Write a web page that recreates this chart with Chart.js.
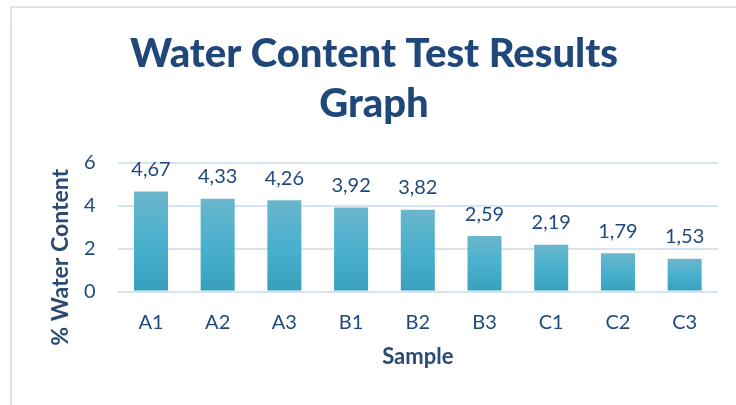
<!DOCTYPE html>
<html>
<head>
<meta charset="utf-8">
<script src="https://cdn.jsdelivr.net/npm/chart.js@4.4.1/dist/chart.umd.min.js"></script>
<style>
    html, body { margin: 0; padding: 0; background: #ffffff; }
    #wrap { position: relative; width: 736px; height: 405px; overflow: hidden; }
    #frame {
        position: absolute; left: 10px; top: 6px; right: -4px; bottom: -4px;
        border-left: 2px solid #d6e4f5; border-top: 2px solid #d6e4f5;
    }
    #water-chart { position: absolute; left: 0; top: 0; }
</style>
</head>
<body>
<div id="wrap">
    <div id="frame"></div>
    <canvas id="water-chart" width="736" height="405"></canvas>
</div>
<script>
// Chart data
const samples = ['A1', 'A2', 'A3', 'B1', 'B2', 'B3', 'C1', 'C2', 'C3'];
const waterContent = [4.67, 4.33, 4.26, 3.92, 3.82, 2.59, 2.19, 1.79, 1.53];
const yTicks = [0, 2, 4, 6];

const chartTitle = ['Water Content Test Results', 'Graph'];
const xTitle = 'Sample';
const yTitle = '% Water Content';

const textBlue = '#1f497d';
const axisTitleBlue = '#2a4a72';
const fontFamily = "Lato, 'Open Sans', sans-serif";

// Excel-like number labels with a decimal comma
function formatValue(v) {
    return v.toFixed(2).replace('.', ',');
}

// Per-bar vertical gradient (light top, darker bottom)
function barGradient(context) {
    const chart = context.chart;
    const yScale = chart.scales.y;
    if (!yScale || context.raw === undefined) return '#4aafcc';
    const top = yScale.getPixelForValue(context.raw);
    const bottom = yScale.getPixelForValue(0);
    if (!isFinite(top) || !isFinite(bottom) || top === bottom) return '#4aafcc';
    const g = chart.ctx.createLinearGradient(0, top, 0, bottom);
    g.addColorStop(0, '#6bb6cc');
    g.addColorStop(0.5, '#49b0ce');
    g.addColorStop(1, '#389fbb');
    return g;
}

// Value labels above the bars
const valueLabels = {
    id: 'valueLabels',
    afterDatasetsDraw(chart) {
        const ctx = chart.ctx;
        const meta = chart.getDatasetMeta(0);
        ctx.save();
        ctx.font = '20px ' + fontFamily;
        ctx.fillStyle = textBlue;
        ctx.textAlign = 'center';
        ctx.textBaseline = 'middle';
        meta.data.forEach((bar, i) => {
            ctx.fillText(formatValue(waterContent[i]), bar.x, bar.y - 22);
        });
        ctx.restore();
    }
};

// Y axis title, centred a bit lower like the original
const yAxisTitle = {
    id: 'yAxisTitle',
    afterDraw(chart) {
        const area = chart.chartArea;
        const ctx = chart.ctx;
        ctx.save();
        ctx.translate(area.left - 57, (area.top + area.bottom) / 2 + 30);
        ctx.rotate(-Math.PI / 2);
        ctx.font = 'bold 23px ' + fontFamily;
        ctx.fillStyle = axisTitleBlue;
        ctx.textAlign = 'center';
        ctx.textBaseline = 'middle';
        ctx.fillText(yTitle, 0, 0);
        ctx.restore();
    }
};

const ctx = document.getElementById('water-chart');

new Chart(ctx, {
    type: 'bar',
    data: {
        labels: samples,
        datasets: [{
            label: yTitle,
            data: waterContent,
            backgroundColor: barGradient,
            borderWidth: 0,
            barPercentage: 0.51,
            categoryPercentage: 1
        }]
    },
    options: {
        responsive: false,
        animation: false,
        layout: {
            padding: { left: 30, right: 18, top: 0, bottom: 35 }
        },
        plugins: {
            legend: { display: false },
            tooltip: { enabled: false },
            title: {
                display: true,
                text: chartTitle,
                color: '#1f477a',
                font: { family: fontFamily, size: 40, weight: 900, lineHeight: 1.25 },
                padding: { top: 29, bottom: 34 }
            }
        },
        scales: {
            x: {
                grid: { display: false, drawTicks: false },
                border: { display: false },
                ticks: {
                    color: textBlue,
                    padding: 19,
                    font: { family: fontFamily, size: 20 }
                },
                title: {
                    display: true,
                    text: xTitle,
                    color: axisTitleBlue,
                    padding: { top: -10, bottom: 0 },
                    font: { family: fontFamily, size: 22, weight: 'bold' }
                }
            },
            y: {
                min: 0,
                max: 6,
                afterBuildTicks(axis) {
                    axis.ticks = yTicks.map(v => ({ value: v }));
                },
                // leave room for the rotated axis title drawn by the plugin
                afterFit(axis) {
                    axis.width += 32;
                },
                grid: {
                    color: '#d6e3f3',
                    lineWidth: 2,
                    drawTicks: false
                },
                border: { display: false },
                ticks: {
                    color: textBlue,
                    padding: 22,
                    font: { family: fontFamily, size: 20 }
                }
            }
        }
    },
    plugins: [valueLabels, yAxisTitle]
});
</script>
</body>
</html>
